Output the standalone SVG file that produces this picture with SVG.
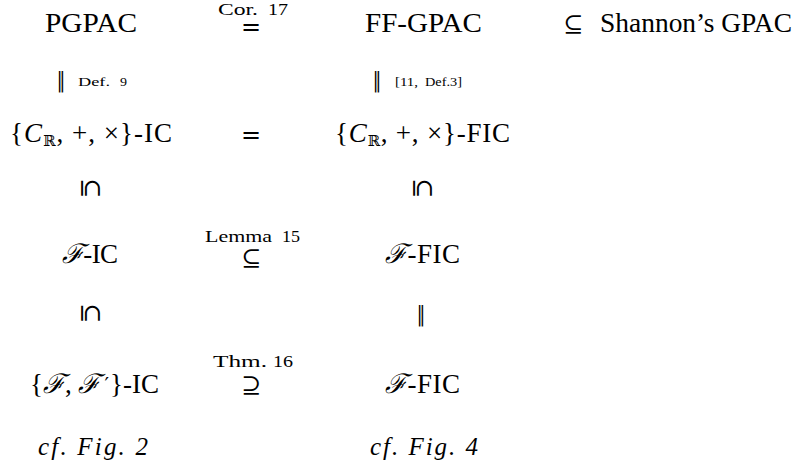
<svg xmlns="http://www.w3.org/2000/svg" width="803" height="471" viewBox="0 0 803 471">
<style>
.t{font-family:"Liberation Serif","DejaVu Serif",serif;font-size:27px;fill:#000}
.i{font-style:italic}
.cal{font-family:"DejaVu Serif",serif;font-style:italic}
.sub{font-family:"DejaVu Serif",serif;font-size:15px}
.pr{font-family:"DejaVu Sans",sans-serif;font-size:20px}
.lbl{font-family:"Liberation Serif","DejaVu Serif",serif;font-size:17px;fill:#000}
.ref{font-family:"Liberation Serif","DejaVu Serif",serif;font-size:13px;fill:#000}
.rel{font-family:"DejaVu Serif",serif;font-size:24px;fill:#000;text-anchor:middle}
.bar{font-family:"DejaVu Sans",sans-serif;font-size:20px;fill:#000;text-anchor:middle}
</style>
<rect width="803" height="471" fill="#fff"/>
<g id="pgpac"><text class="t" x="45" y="32" textLength="92" lengthAdjust="spacingAndGlyphs">PGPAC</text></g>
<g id="ffgpac"><text class="t" x="365" y="32" textLength="117" lengthAdjust="spacingAndGlyphs">FF-GPAC</text></g>
<g id="shannon"><text class="t" x="600" y="32" textLength="192" lengthAdjust="spacingAndGlyphs">Shannon’s GPAC</text></g>
<g id="crplus-ic"><text class="t" x="10" y="142" textLength="162" lengthAdjust="spacing">{<tspan class="i">C</tspan><tspan class="sub" dy="4">ℝ</tspan><tspan dy="-4">, +, ×}-IC</tspan></text></g>
<g id="crplus-fic"><text class="t" x="335" y="142" textLength="175" lengthAdjust="spacing">{<tspan class="i">C</tspan><tspan class="sub" dy="4">ℝ</tspan><tspan dy="-4">, +, ×}-FIC</tspan></text></g>
<g id="f-ic"><text class="t" x="62" y="263" textLength="56" lengthAdjust="spacing"><tspan class="cal">ℱ</tspan>-IC</text></g>
<g id="f-fic-1"><text class="t" x="385" y="263" textLength="75" lengthAdjust="spacing"><tspan class="cal">ℱ</tspan>-FIC</text></g>
<g id="ff-ic"><text class="t" x="30" y="393">{<tspan class="cal">ℱ</tspan>, <tspan class="cal">ℱ</tspan><tspan class="pr" dx="4" dy="-2">′</tspan><tspan dx="1" dy="2">}-IC</tspan></text></g>
<g id="f-fic-2"><text class="t" x="385" y="393" textLength="75" lengthAdjust="spacing"><tspan class="cal">ℱ</tspan>-FIC</text></g>
<g id="cf2"><text class="t i" x="38" y="455" style="font-size:25px" textLength="110" lengthAdjust="spacing">cf.  Fig.  2</text></g>
<g id="cf4"><text class="t i" x="370" y="455" style="font-size:25px" textLength="108" lengthAdjust="spacing">cf.  Fig.  4</text></g>
<g id="connectors">
<text class="lbl" x="218" y="15" textLength="40" lengthAdjust="spacingAndGlyphs">Cor.</text>
<text class="lbl" x="268" y="15" textLength="20" lengthAdjust="spacingAndGlyphs">17</text>
<text class="rel" x="251" y="35">=</text>
<text class="rel" x="573" y="32">⊆</text>
<text class="bar" transform="translate(61,87) scale(0.85,1.1)">‖</text>
<text class="ref" x="78" y="86" textLength="32" lengthAdjust="spacingAndGlyphs">Def.</text>
<text class="ref" x="120" y="86" textLength="7" lengthAdjust="spacingAndGlyphs">9</text>
<text class="bar" transform="translate(377,87) scale(0.85,1.1)">‖</text>
<text class="ref" x="395" y="86" textLength="23" lengthAdjust="spacingAndGlyphs">[11,</text>
<text class="ref" x="425" y="86" textLength="37" lengthAdjust="spacingAndGlyphs">Def.3]</text>
<text class="rel" x="251" y="143">=</text>
<text class="rel" transform="translate(91,188) rotate(90)" y="8">⊆</text>
<text class="rel" transform="translate(423,188) rotate(90)" y="8">⊆</text>
<text class="lbl" x="205" y="242" textLength="67" lengthAdjust="spacingAndGlyphs">Lemma</text>
<text class="lbl" x="282" y="242" textLength="18" lengthAdjust="spacingAndGlyphs">15</text>
<text class="rel" x="251" y="266">⊆</text>
<text class="rel" transform="translate(91,313) rotate(90)" y="8">⊆</text>
<text class="bar" transform="translate(421,321) scale(0.85,1.1)">‖</text>
<text class="lbl" x="213" y="367" textLength="54" lengthAdjust="spacingAndGlyphs">Thm.</text>
<text class="lbl" x="273" y="367" textLength="20" lengthAdjust="spacingAndGlyphs">16</text>
<text class="rel" x="251" y="393">⊇</text>
</g>
</svg>
